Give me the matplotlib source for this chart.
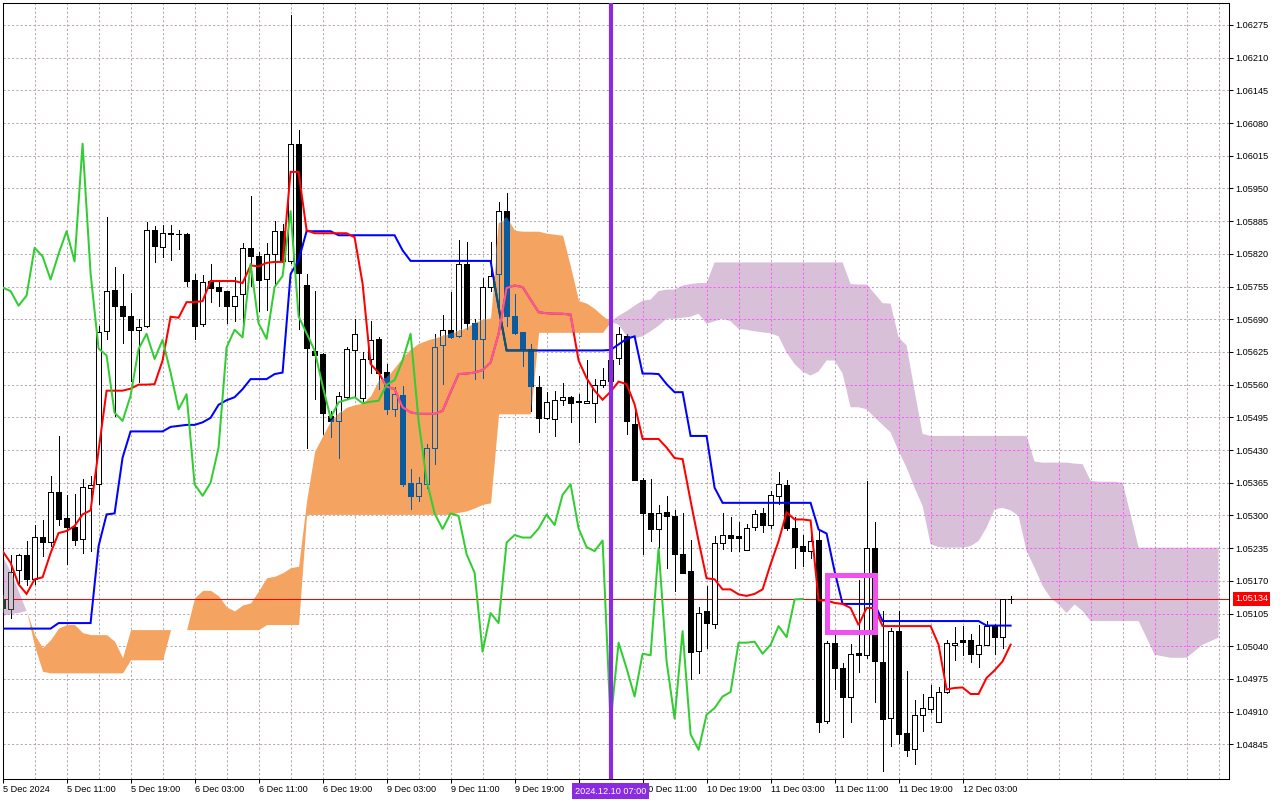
import numpy as np
import matplotlib
matplotlib.use("Agg")
import matplotlib.pyplot as plt
import matplotlib.transforms as mtransforms
from matplotlib.collections import LineCollection, PolyCollection
from matplotlib.path import Path
from matplotlib.patches import Rectangle

plt.rcParams['font.family'] = ['Liberation Sans', 'DejaVu Sans']

# ---------------- data (EURUSD H1, 5 Dec 03:00 -> 12 Dec 04:00) ----------------
opens = [1.05134, 1.05113, 1.05191, 1.05221, 1.05174, 1.05257, 1.05248, 1.05347, 1.05294, 1.05276,
         1.05254, 1.05355, 1.05362, 1.05666, 1.05749, 1.05717, 1.05697, 1.05669, 1.05677, 1.05868,
         1.05833, 1.05860, 1.05860, 1.05860, 1.05769, 1.05681, 1.05766, 1.05754, 1.05747, 1.05717,
         1.05741, 1.05832, 1.05815, 1.05771, 1.05820, 1.05865, 1.05806, 1.06039, 1.05759, 1.05626,
         1.05620, 1.05498, 1.05488, 1.05536, 1.05628, 1.05533, 1.05611, 1.05651, 1.05586, 1.05511,
         1.05540, 1.05365, 1.05339, 1.05362, 1.05435, 1.05638, 1.05669, 1.05656, 1.05799, 1.05682,
         1.05651, 1.05755, 1.05779, 1.05905, 1.05696, 1.05664, 1.05631, 1.05556, 1.05494, 1.05492,
         1.05530, 1.05535, 1.05527, 1.05523, 1.05524, 1.05560, 1.05568, 1.05613, 1.05657, 1.05482,
         1.05370, 1.05304, 1.05273, 1.05307, 1.05299, 1.05223, 1.05189, 1.05031, 1.05110, 1.05084,
         1.05246, 1.05261, 1.05259, 1.05231, 1.05276, 1.05304, 1.05281, 1.05339, 1.05361, 1.05274,
         1.05239, 1.05229, 1.05252, 1.04892, 1.05047, 1.04996, 1.04940, 1.05027, 1.05022, 1.05235,
         1.05008, 1.04897, 1.05070, 1.04867, 1.04836, 1.04904, 1.04915, 1.04889, 1.04949, 1.05043,
         1.05052, 1.05053, 1.05025, 1.05043, 1.05080, 1.05058, 1.05133]
highs = [1.05142, 1.05221, 1.05224, 1.05249, 1.05281, 1.05290, 1.05379, 1.05458, 1.05340, 1.05343,
         1.05372, 1.05379, 1.05677, 1.05893, 1.05794, 1.05779, 1.05742, 1.05691, 1.05883, 1.05875,
         1.05877, 1.05877, 1.05868, 1.05862, 1.05779, 1.05777, 1.05799, 1.05764, 1.05747, 1.05774,
         1.05841, 1.05936, 1.05824, 1.05841, 1.05885, 1.05880, 1.06295, 1.06066, 1.05779, 1.05747,
         1.05622, 1.05508, 1.05545, 1.05634, 1.05691, 1.05624, 1.05687, 1.05654, 1.05602, 1.05555,
         1.05558, 1.05392, 1.05377, 1.05442, 1.05660, 1.05699, 1.05744, 1.05848, 1.05843, 1.05691,
         1.05772, 1.05843, 1.05923, 1.05940, 1.05741, 1.05664, 1.05641, 1.05578, 1.05545, 1.05548,
         1.05564, 1.05538, 1.05541, 1.05609, 1.05571, 1.05594, 1.05618, 1.05675, 1.05660, 1.05508,
         1.05375, 1.05372, 1.05321, 1.05338, 1.05310, 1.05304, 1.05251, 1.05118, 1.05160, 1.05259,
         1.05304, 1.05296, 1.05286, 1.05282, 1.05310, 1.05315, 1.05349, 1.05387, 1.05370, 1.05296,
         1.05261, 1.05271, 1.05269, 1.05050, 1.05063, 1.05007, 1.05045, 1.05171, 1.05369, 1.05286,
         1.05110, 1.05076, 1.05110, 1.04990, 1.04934, 1.04944, 1.04962, 1.04958, 1.05053, 1.05078,
         1.05080, 1.05064, 1.05083, 1.05090, 1.05084, 1.05133, 1.05140]
lows = [1.05108, 1.05096, 1.05166, 1.05162, 1.05163, 1.05219, 1.05239, 1.05281, 1.05204, 1.05241,
        1.05226, 1.05229, 1.05323, 1.05651, 1.05498, 1.05642, 1.05568, 1.05565, 1.05674, 1.05804,
        1.05813, 1.05807, 1.05830, 1.05757, 1.05651, 1.05676, 1.05724, 1.05717, 1.05682, 1.05686,
        1.05676, 1.05757, 1.05707, 1.05709, 1.05759, 1.05790, 1.05801, 1.05671, 1.05435, 1.05531,
        1.05462, 1.05455, 1.05415, 1.05531, 1.05535, 1.05523, 1.05584, 1.05551, 1.05502, 1.05498,
        1.05358, 1.05312, 1.05329, 1.05355, 1.05403, 1.05561, 1.05652, 1.05654, 1.05671, 1.05571,
        1.05574, 1.05747, 1.05704, 1.05677, 1.05660, 1.05598, 1.05508, 1.05465, 1.05492, 1.05458,
        1.05520, 1.05485, 1.05445, 1.05523, 1.05485, 1.05555, 1.05562, 1.05602, 1.05462, 1.05370,
        1.05223, 1.05249, 1.05236, 1.05195, 1.05150, 1.05186, 1.04974, 1.04987, 1.05037, 1.05076,
        1.05233, 1.05229, 1.05229, 1.05231, 1.05272, 1.05268, 1.05274, 1.05322, 1.05272, 1.05196,
        1.05199, 1.05216, 1.04869, 1.04887, 1.04954, 1.04859, 1.04890, 1.04989, 1.05017, 1.04930,
        1.04791, 1.04841, 1.04847, 1.04821, 1.04806, 1.04872, 1.04910, 1.04889, 1.04947, 1.05013,
        1.05023, 1.05009, 1.04998, 1.05043, 1.05025, 1.05037, 1.05126]
closes = [1.05116, 1.05188, 1.05221, 1.05174, 1.05257, 1.05248, 1.05347, 1.05292, 1.05276, 1.05252,
          1.05357, 1.05360, 1.05665, 1.05747, 1.05717, 1.05697, 1.05669, 1.05675, 1.05868, 1.05835,
          1.05862, 1.05861, 1.05859, 1.05767, 1.05677, 1.05764, 1.05753, 1.05746, 1.05717, 1.05737,
          1.05832, 1.05815, 1.05769, 1.05820, 1.05865, 1.05805, 1.06039, 1.05781, 1.05632, 1.05618,
          1.05504, 1.05488, 1.05538, 1.05631, 1.05661, 1.05611, 1.05649, 1.05584, 1.05511, 1.05541,
          1.05362, 1.05339, 1.05365, 1.05435, 1.05634, 1.05669, 1.05654, 1.05800, 1.05682, 1.05651,
          1.05754, 1.05776, 1.05905, 1.05696, 1.05662, 1.05628, 1.05558, 1.05494, 1.05525, 1.05530,
          1.05535, 1.05523, 1.05526, 1.05528, 1.05560, 1.05569, 1.05608, 1.05661, 1.05488, 1.05370,
          1.05304, 1.05273, 1.05304, 1.05299, 1.05223, 1.05186, 1.05029, 1.05106, 1.05086, 1.05246,
          1.05261, 1.05256, 1.05256, 1.05274, 1.05302, 1.05281, 1.05341, 1.05362, 1.05274, 1.05237,
          1.05229, 1.05250, 1.04889, 1.05047, 1.04996, 1.04940, 1.05025, 1.05022, 1.05235, 1.05010,
          1.04896, 1.05070, 1.04865, 1.04834, 1.04904, 1.04917, 1.04940, 1.04949, 1.05047, 1.05047,
          1.05049, 1.05025, 1.05043, 1.05080, 1.05058, 1.05133, 1.05134]

tenkan = [1.05229, 1.05206, 1.05163, 1.05144, 1.05173, 1.05177, 1.05225, 1.05265, 1.05269, 1.05279,
          1.05302, 1.05310, 1.05429, 1.05548, 1.05548, 1.05548, 1.05552, 1.05560, 1.05560, 1.05561,
          1.05608, 1.05695, 1.05693, 1.05724, 1.05724, 1.05726, 1.05766, 1.05766, 1.05766, 1.05766,
          1.05762, 1.05797, 1.05795, 1.05802, 1.05804, 1.05804, 1.05983, 1.05983, 1.05867, 1.05861,
          1.05861, 1.05861, 1.05861, 1.05861, 1.05853, 1.05761, 1.05601, 1.05584, 1.05556, 1.05551,
          1.05515, 1.05505, 1.05502, 1.05502, 1.05502, 1.05508, 1.05545, 1.05581, 1.05582, 1.05584,
          1.05589, 1.05604, 1.05661, 1.05752, 1.05757, 1.05754, 1.05729, 1.05704, 1.05702, 1.05701,
          1.05701, 1.05699, 1.05608, 1.05573, 1.05548, 1.05530, 1.05546, 1.05566, 1.05561, 1.05521,
          1.05452, 1.05452, 1.05452, 1.05435, 1.05414, 1.05412, 1.05329, 1.05249, 1.05175, 1.05173,
          1.05153, 1.05153, 1.05143, 1.05140, 1.05144, 1.05153, 1.05203, 1.05249, 1.05306, 1.05292,
          1.05292, 1.05290, 1.05131, 1.05131, 1.05126, 1.05124, 1.05116, 1.05082, 1.05116, 1.05116,
          1.05080, 1.05080, 1.05080, 1.05080, 1.05080, 1.05080, 1.05080, 1.05043, 1.04954, 1.04957,
          1.04958, 1.04945, 1.04945, 1.04977, 1.04992, 1.05010, 1.05043]
kijun = [1.05075, 1.05075, 1.05075, 1.05075, 1.05075, 1.05075, 1.05075, 1.05086, 1.05086, 1.05086,
         1.05086, 1.05086, 1.05239, 1.05302, 1.05304, 1.05415, 1.05467, 1.05467, 1.05467, 1.05467,
         1.05467, 1.05476, 1.05478, 1.05480, 1.05480, 1.05485, 1.05494, 1.05520, 1.05529, 1.05535,
         1.05551, 1.05571, 1.05571, 1.05571, 1.05581, 1.05584, 1.05780, 1.05807, 1.05865, 1.05865,
         1.05865, 1.05865, 1.05857, 1.05857, 1.05857, 1.05857, 1.05857, 1.05857, 1.05857, 1.05857,
         1.05827, 1.05806, 1.05806, 1.05806, 1.05806, 1.05806, 1.05806, 1.05806, 1.05806, 1.05806,
         1.05806, 1.05806, 1.05714, 1.05628, 1.05628, 1.05628, 1.05628, 1.05628, 1.05628, 1.05628,
         1.05628, 1.05628, 1.05628, 1.05628, 1.05628, 1.05628, 1.05629, 1.05640, 1.05651, 1.05656,
         1.05582, 1.05582, 1.05581, 1.05561, 1.05545, 1.05545, 1.05458, 1.05458, 1.05458, 1.05355,
         1.05325, 1.05325, 1.05325, 1.05325, 1.05325, 1.05325, 1.05325, 1.05325, 1.05325, 1.05325,
         1.05325, 1.05325, 1.05272, 1.05264, 1.05189, 1.05124, 1.05124, 1.05124, 1.05124, 1.05124,
         1.05090, 1.05090, 1.05090, 1.05090, 1.05090, 1.05090, 1.05090, 1.05090, 1.05090, 1.05090,
         1.05090, 1.05090, 1.05090, 1.05081, 1.05081, 1.05081, 1.05081]
span_a = [1.05100, 1.05104, 1.05106, 1.05110, 1.05063, 1.05037, 1.05053, 1.05076, 1.05083, 1.05083,
          1.05067, 1.05063, 1.05063, 1.05063, 1.05050, 1.05017, 1.05073, 1.05073, 1.05073, 1.05073,
          1.05073, 1.05073, 1.05073, 1.05073, 1.05136, 1.05151, 1.05151, 1.05140, 1.05118, 1.05110,
          1.05122, 1.05126, 1.05150, 1.05176, 1.05179, 1.05186, 1.05196, 1.05199, 1.05329, 1.05427,
          1.05458, 1.05488, 1.05502, 1.05515, 1.05520, 1.05523, 1.05538, 1.05569, 1.05574, 1.05594,
          1.05614, 1.05631, 1.05642, 1.05648, 1.05653, 1.05657, 1.05662, 1.05667, 1.05674, 1.05684,
          1.05689, 1.05693, 1.05880, 1.05893, 1.05867, 1.05865, 1.05865, 1.05865, 1.05861, 1.05859,
          1.05857, 1.05794, 1.05727, 1.05722, 1.05711, 1.05697, 1.05685, 1.05679, 1.05657, 1.05652,
          1.05656, 1.05666, 1.05677, 1.05691, 1.05691, 1.05693, 1.05695, 1.05701, 1.05681, 1.05686,
          1.05691, 1.05686, 1.05671, 1.05669, 1.05666, 1.05664, 1.05662, 1.05656, 1.05624, 1.05601,
          1.05586, 1.05578, 1.05586, 1.05608, 1.05608, 1.05582, 1.05515, 1.05515, 1.05511, 1.05495,
          1.05480, 1.05465, 1.05428, 1.05395, 1.05355, 1.05319, 1.05243, 1.05237, 1.05236, 1.05236,
          1.05236, 1.05239, 1.05249, 1.05276, 1.05312, 1.05315, 1.05310, 1.05299, 1.05229, 1.05196,
          1.05160, 1.05136, 1.05123, 1.05106, 1.05123, 1.05110, 1.05090, 1.05090, 1.05090, 1.05090,
          1.05090, 1.05090, 1.05090, 1.05057, 1.05023, 1.05020, 1.05017, 1.05017, 1.05017, 1.05030,
          1.05043, 1.05050, 1.05057]
span_b = [1.05219, 1.05189, 1.05150, 1.05110, 1.05040, 1.04990, 1.04987, 1.04987, 1.04987, 1.04987,
          1.04987, 1.04987, 1.04987, 1.04987, 1.04987, 1.04987, 1.05013, 1.05013, 1.05013, 1.05013,
          1.05013, 1.05073, 1.05073, 1.05073, 1.05073, 1.05073, 1.05073, 1.05073, 1.05073, 1.05073,
          1.05073, 1.05073, 1.05073, 1.05083, 1.05083, 1.05083, 1.05083, 1.05083, 1.05302, 1.05302,
          1.05302, 1.05302, 1.05302, 1.05302, 1.05302, 1.05302, 1.05302, 1.05302, 1.05302, 1.05302,
          1.05302, 1.05302, 1.05302, 1.05302, 1.05302, 1.05302, 1.05302, 1.05306, 1.05309, 1.05315,
          1.05322, 1.05325, 1.05502, 1.05502, 1.05502, 1.05502, 1.05502, 1.05664, 1.05664, 1.05664,
          1.05664, 1.05664, 1.05664, 1.05664, 1.05664, 1.05664, 1.05685, 1.05697, 1.05706, 1.05717,
          1.05727, 1.05729, 1.05746, 1.05749, 1.05749, 1.05757, 1.05760, 1.05762, 1.05762, 1.05803,
          1.05803, 1.05803, 1.05803, 1.05803, 1.05803, 1.05803, 1.05803, 1.05803, 1.05803, 1.05803,
          1.05803, 1.05803, 1.05803, 1.05803, 1.05803, 1.05803, 1.05760, 1.05759, 1.05759, 1.05741,
          1.05722, 1.05721, 1.05654, 1.05638, 1.05548, 1.05462, 1.05458, 1.05458, 1.05458, 1.05458,
          1.05458, 1.05458, 1.05458, 1.05458, 1.05458, 1.05458, 1.05458, 1.05458, 1.05458, 1.05407,
          1.05405, 1.05405, 1.05405, 1.05405, 1.05403, 1.05402, 1.05369, 1.05367, 1.05367, 1.05367,
          1.05365, 1.05302, 1.05236, 1.05236, 1.05236, 1.05236, 1.05236, 1.05236, 1.05236, 1.05236,
          1.05236, 1.05236, 1.05236]
chikou_shift = 26

time_labels = ["5 Dec 2024", "5 Dec 11:00", "5 Dec 19:00", "6 Dec 03:00", "6 Dec 11:00",
               "6 Dec 19:00", "9 Dec 03:00", "9 Dec 11:00", "9 Dec 19:00", "10 Dec 03:00",
               "10 Dec 11:00", "10 Dec 19:00", "11 Dec 03:00", "11 Dec 11:00", "11 Dec 19:00",
               "12 Dec 03:00"]
price_ticks = [1.06275, 1.06210, 1.06145, 1.06080, 1.06015, 1.05950, 1.05885, 1.05820, 1.05755,
               1.05690, 1.05625, 1.05560, 1.05495, 1.05430, 1.05365, 1.05300, 1.05235, 1.05170,
               1.05105, 1.05040, 1.04975, 1.04910, 1.04845]
last_price = 1.05134
signal_bar = 76
signal_label = "2024.12.10 07:00"
box_bars = (103.0, 109.0)
box_prices = (1.05068, 1.05181)

# ---------------- figure ----------------
W, H = 1280, 800
fig = plt.figure(figsize=(12.8, 8.0), dpi=100)
fig.patch.set_facecolor('white')
ax = fig.add_axes([2.5 / W, 21 / H, 1226.5 / W, 776.5 / H])
ax.set_facecolor('white')
ax.set_xlim(-0.01, 153.3)
ax.set_ylim(1.047760, 1.063197)

FS = 6.6
ORANGE = '#f4a460'
THISTLE = '#d8c0d8'
GRID = '#b4a4b4'
DASH = (0, (2.2, 2.2))

# grid
for yv in price_ticks:
    ax.axhline(yv, color=GRID, lw=0.7, ls=DASH, zorder=0.5)
for xv in range(4, 153, 4):
    ax.axvline(xv, color=GRID, lw=0.7, ls=DASH, zorder=0.5)

# cloud
A = np.array(span_a)
B = np.array(span_b)
xc = np.arange(len(A))
orange = ax.fill_between(xc, A, B, where=A >= B, interpolate=True, color=ORANGE, lw=0, zorder=1)
thist = ax.fill_between(xc, A, B, where=A <= B, interpolate=True, color=THISTLE, lw=0, zorder=1)
orange_path = Path.make_compound_path(*orange.get_paths())
thist_path = Path.make_compound_path(*thist.get_paths())

# magenta grid seen through the thistle cloud
for yv in price_ticks:
    ln = ax.axhline(yv, color='#ff55ff', lw=0.7, ls=DASH, zorder=1.5)
    ln.set_clip_path(thist_path, ax.transData)
for xv in range(4, 153, 4):
    ln = ax.axvline(xv, color='#ff55ff', lw=0.7, ls=DASH, zorder=1.5)
    ln.set_clip_path(thist_path, ax.transData)

# last price line
ax.axhline(last_price, color='red', lw=0.75, zorder=1.8)

xb = np.arange(len(closes))
HW = 0.29


def draw_candles(wick_col, bull_face, bear_face, edge_col, z, clip=None):
    segs = [[(i, l), (i, h)] for i, l, h in zip(xb, lows, highs)]
    lc = LineCollection(segs, colors=wick_col, linewidths=0.72, zorder=z, antialiaseds=False)
    polys, fcs = [], []
    for i, (o, c) in enumerate(zip(opens, closes)):
        lo, hi = min(o, c), max(o, c)
        polys.append([(i - HW, lo), (i + HW, lo), (i + HW, hi), (i - HW, hi)])
        fcs.append(bull_face if c >= o else bear_face)
    pc = PolyCollection(polys, facecolors=fcs, edgecolors=edge_col, linewidths=0.72,
                        zorder=z + 0.05, antialiaseds=False)
    ax.add_collection(lc)
    ax.add_collection(pc)
    if clip is not None:
        lc.set_clip_path(clip, ax.transData)
        pc.set_clip_path(clip, ax.transData)


draw_candles('black', 'white', 'black', 'black', 3.0)
draw_candles('#0b5b9f', ORANGE, '#0b5b9f', '#0b5b9f', 3.2, orange_path)
draw_candles('#274027', THISTLE, '#274027', '#274027', 3.2, thist_path)

# ichimoku lines
LW = 1.45
ax.plot(xb, kijun, color='#0000ff', lw=LW, zorder=4.1, solid_joinstyle='miter')
ax.plot(xb, tenkan, color='#ff0000', lw=LW, zorder=4.2, solid_joinstyle='miter')
k2, = ax.plot(xb, kijun, color='#0b5b60', lw=LW, zorder=4.3)
k2.set_clip_path(orange_path, ax.transData)
t2, = ax.plot(xb, tenkan, color='#f45b9f', lw=LW, zorder=4.3)
t2.set_clip_path(orange_path, ax.transData)
ax.plot(xb[:len(closes) - chikou_shift], closes[chikou_shift:], color='#32cd32', lw=LW, zorder=4.5)

# signal line and box
ax.axvline(signal_bar, color='#8a2be2', lw=3.0, zorder=6)
ax.add_patch(Rectangle((box_bars[0], box_prices[0]), box_bars[1] - box_bars[0],
                       box_prices[1] - box_prices[0], fill=False, ec='#f050f0', lw=3.6,
                       joinstyle='miter', zorder=7))

# axes, ticks
for s in ax.spines.values():
    s.set_color('black')
    s.set_linewidth(0.75)
ax.yaxis.tick_right()
ax.set_yticks(price_ticks)
ax.set_yticklabels([f"{v:.5f}" for v in price_ticks])
label_bars = np.arange(len(time_labels)) * 8
ax.set_xticks(label_bars)
ax.set_xticklabels(time_labels)
for t, b in zip(ax.get_xticklabels(), label_bars):
    t.set_ha('left')
    if signal_bar - 8 < b <= signal_bar:
        t.set_visible(False)   # hidden under the highlighted time label, as in MT5
ax.tick_params(axis='both', direction='out', length=3, width=0.75, pad=1.3,
               labelsize=FS, colors='black')

# current price label
tr_y = mtransforms.blended_transform_factory(ax.transAxes, ax.transData)
ax.text(1.0 + 6.0 / 1226.5, last_price, f"{last_price:.5f}", transform=tr_y, ha='left',
        va='center', color='white', fontsize=FS, zorder=10, clip_on=False,
        bbox=dict(boxstyle='square,pad=0.25', fc='red', ec='none'))

# highlighted time label
tr_x = mtransforms.blended_transform_factory(ax.transData, ax.transAxes)
ax.text(signal_bar, -12.0 / 776.5, signal_label, transform=tr_x, ha='center', va='center',
        color='white', fontsize=FS, zorder=10, clip_on=False,
        bbox=dict(boxstyle='square,pad=0.35', fc='#8a2be2', ec='none'))

fig.savefig('out.png', dpi=100, facecolor='white')
